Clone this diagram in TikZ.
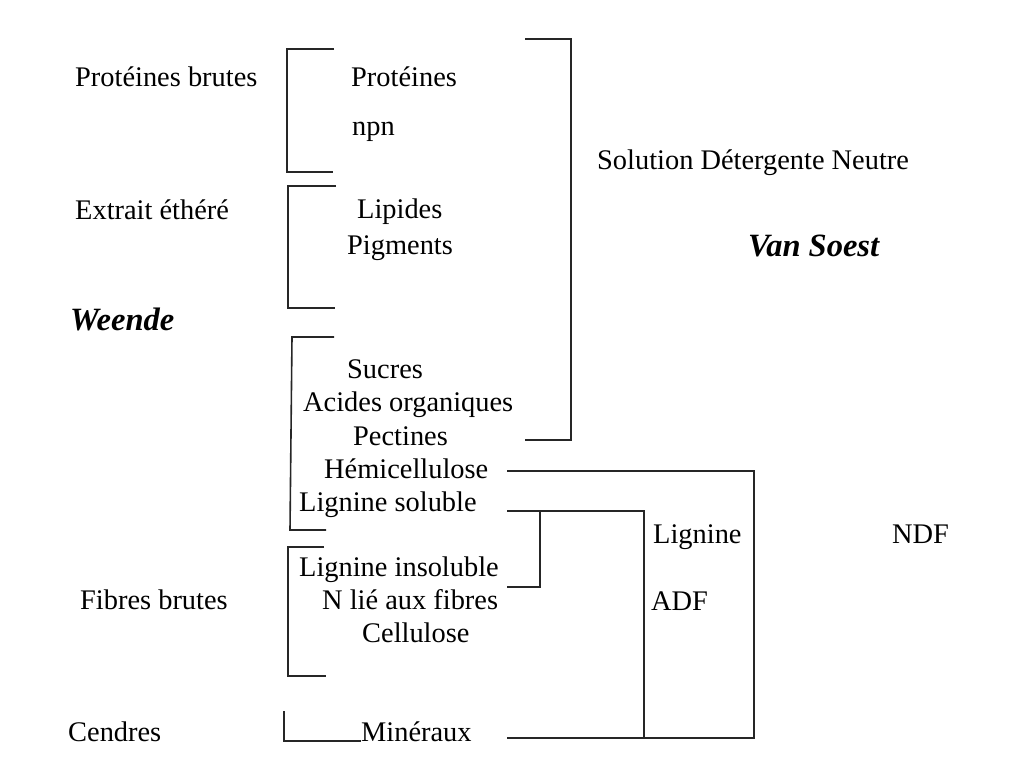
\documentclass[tikz,border=0pt]{standalone}
\usepackage{fontspec}
\setmainfont{Liberation Serif}
\begin{document}
\begin{tikzpicture}[x=1pt,y=-1pt,
  lbl/.style={anchor=base west,inner sep=0pt,font=\fontsize{28.4}{34}\selectfont},
  ttl/.style={anchor=base west,inner sep=0pt,font=\fontsize{32.5}{38}\selectfont\bfseries\itshape},
  rule/.style={line width=1.6pt,black!85}]
\useasboundingbox (0,0) rectangle (1012,765);

% Weende fractions (left column)
\node[lbl] (pb) at (75,87) {Protéines brutes};
\node[lbl] (ee) at (75,219) {Extrait éthéré};
\node[ttl] (we) at (70,330) {Weende};
\node[lbl] (fb) at (80,609) {Fibres brutes};
\node[lbl] (ce) at (68,741) {Cendres};

% Constituents (middle column)
\node[lbl] (pr) at (351,87) {Protéines};
\node[lbl] (np) at (352,136) {npn};
\node[lbl] (li) at (357,218) {Lipides};
\node[lbl] (pi) at (347,254) {Pigments};
\node[lbl] (su) at (347,378) {Sucres};
\node[lbl] (ao) at (303,411) {Acides organiques};
\node[lbl] (pe) at (353,445) {Pectines};
\node[lbl] (he) at (324,478) {Hémicellulose};
\node[lbl] (ls) at (299,511) {Lignine soluble};
\node[lbl] (lin) at (299,576) {Lignine insoluble};
\node[lbl] (nl) at (322,609) {N lié aux fibres};
\node[lbl] (cel) at (362,642) {Cellulose};
\node[lbl] (mi) at (361,741) {Minéraux};

% Van Soest fractions (right)
\node[lbl] (sdn) at (597,169) {Solution Détergente Neutre};
\node[ttl] (vs) at (748,256) {Van Soest};
\node[lbl] (lg) at (653,543) {Lignine};
\node[lbl] (adf) at (651,610) {ADF};
\node[lbl] (ndf) at (892,543) {NDF};

% Left brackets
\draw[rule] (334,49) -- (287,49) -- (287,172) -- (333,172);
\draw[rule] (336,186) -- (288,186) -- (288,308) -- (335,308);
\draw[rule] (334,337) -- (292,337) -- (290,530) -- (326,530);
\draw[rule] (324,547) -- (288,547) -- (288,676) -- (326,676);
\coordinate (cb) at (284,711);
\draw[rule] (cb) -- (cb |- mi.base) -- (mi.base west);

% Neutral detergent bracket
\draw[rule] (525,39) -- (571,39) -- (571,440) -- (525,440);

% Fibre brackets
\coordinate (hE) at (507,471);
\coordinate (lsE) at (507,511);
\coordinate (liE) at (507,587);
\coordinate (miE) at (507,738);
\coordinate (ndfC) at (754,471);
\coordinate (adfC) at (644,511);
\coordinate (ligC) at (540,511);
\draw[rule] (hE) -- (ndfC) -- (ndfC |- miE) -- (miE);
\draw[rule] (lsE) -- (adfC) -- (adfC |- miE);
\draw[rule] (ligC) -- (ligC |- liE) -- (liE);
\end{tikzpicture}
\end{document}
